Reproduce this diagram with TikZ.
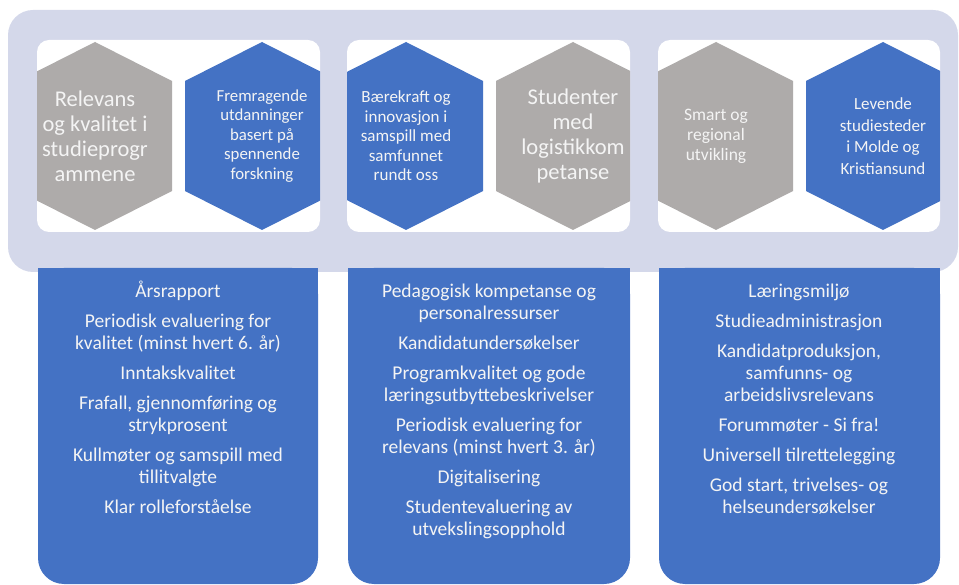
\documentclass[tikz,border=0pt]{standalone}
\usepackage{fontspec}
\setmainfont{Carlito}
\definecolor{hexblue}{RGB}{68,114,196}
\definecolor{hexgrey}{RGB}{174,171,170}
\definecolor{backlav}{RGB}{212,216,234}
\definecolor{softwhite}{RGB}{244,244,244}

% hexagon: name, centre x, colour, font size, text
\newcommand{\hexcell}[5]{%
  \fill[#3] (#2,42) -- (#2+77,81) -- (#2+77,191) -- (#2,230)
    -- (#2-77,191) -- (#2-77,81) -- cycle;
  \node[hextext, font=#4] (#1) at (#2,136) {#5};
}

\begin{document}
\begin{tikzpicture}[
        x=1pt, y=-1pt,
        hextext/.style={text=softwhite, align=center, inner sep=0pt},
        coltext/.style={text=softwhite, align=center, inner sep=0pt, anchor=north,
            font=\fontsize{19.5}{22}\selectfont},
        panel/.style={fill=white, rounded corners=12pt},
    ]
    \useasboundingbox (0,0) rectangle (959,585);
    \fill[backlav, rounded corners=25pt] (8,10) rectangle (958,272);

    % top panels
    \fill[panel] (37,40) rectangle (320,232);
    \fill[panel] (347,40) rectangle (630,232);
    \fill[panel] (658,40) rectangle (940,232);

    \begin{scope}
    \clip[rounded corners=12pt] (37,40) rectangle (320,232);
    \hexcell{relevans}{95}{hexgrey}{\fontsize{22.5}{25}\selectfont}
        {Relevans\\og kvalitet i\\studieprogr\\ammene}
    \hexcell{fremragende}{262}{hexblue}{\fontsize{16.8}{19.5}\selectfont}
        {Fremragende\\utdanninger\\basert på\\spennende\\forskning}
    \end{scope}

    \begin{scope}
    \clip[rounded corners=12pt] (347,40) rectangle (630,232);
    \hexcell{baerekraft}{406}{hexblue}{\fontsize{17}{19.5}\selectfont}
        {Bærekraft og\\innovasjon i\\samspill med\\samfunnet\\rundt oss}
    \hexcell{studenter}{573}{hexgrey}{\fontsize{22.5}{25}\selectfont}
        {Studenter\\med\\logistikkom\\petanse}
    \end{scope}

    \begin{scope}
    \clip[rounded corners=12pt] (658,40) rectangle (940,232);
    \hexcell{smart}{716}{hexgrey}{\fontsize{17.5}{20}\selectfont}
        {Smart og\\regional\\utvikling}
    \hexcell{levende}{883}{hexblue}{\fontsize{17}{21.5}\selectfont}
        {Levende\\studiesteder\\i Molde og\\Kristiansund}
    \end{scope}

    % columns
    \foreach \l/\r in {38/318, 348/630, 659/940}{
        \fill[hexblue, rounded corners=26pt] (\l,268) rectangle (\r,584);
        \fill[hexblue] (\l,268) rectangle (\r,330);
    }

    \node[coltext] (kvalitet) at (178,281) {\vphantom{Å}Årsrapport\\[8pt]
        Periodisk evaluering for\\kvalitet (minst hvert 6. år)\\[8pt]
        Inntakskvalitet\\[8pt]
        Frafall, gjennomføring og\\strykprosent\\[8pt]
        Kullmøter og samspill med\\tillitvalgte\\[8pt]
        Klar rolleforståelse};
    \node[coltext] (kompetanse) at (489,281) {\vphantom{Å}Pedagogisk kompetanse og\\personalressurser\\[8pt]
        Kandidatundersøkelser\\[8pt]
        Programkvalitet og gode\\læringsutbyttebeskrivelser\\[8pt]
        Periodisk evaluering for\\relevans (minst hvert 3. år)\\[8pt]
        Digitalisering\\[8pt]
        Studentevaluering av\\utvekslingsopphold};
    \node[coltext] (miljo) at (799,281) {\vphantom{Å}Læringsmiljø\\[8pt]
        Studieadministrasjon\\[8pt]
        Kandidatproduksjon,\\samfunns- og\\arbeidslivsrelevans\\[8pt]
        Forummøter - Si fra!\\[8pt]
        Universell tilrettelegging\\[8pt]
        God start, trivelses- og\\helseundersøkelser};
\end{tikzpicture}
\end{document}
